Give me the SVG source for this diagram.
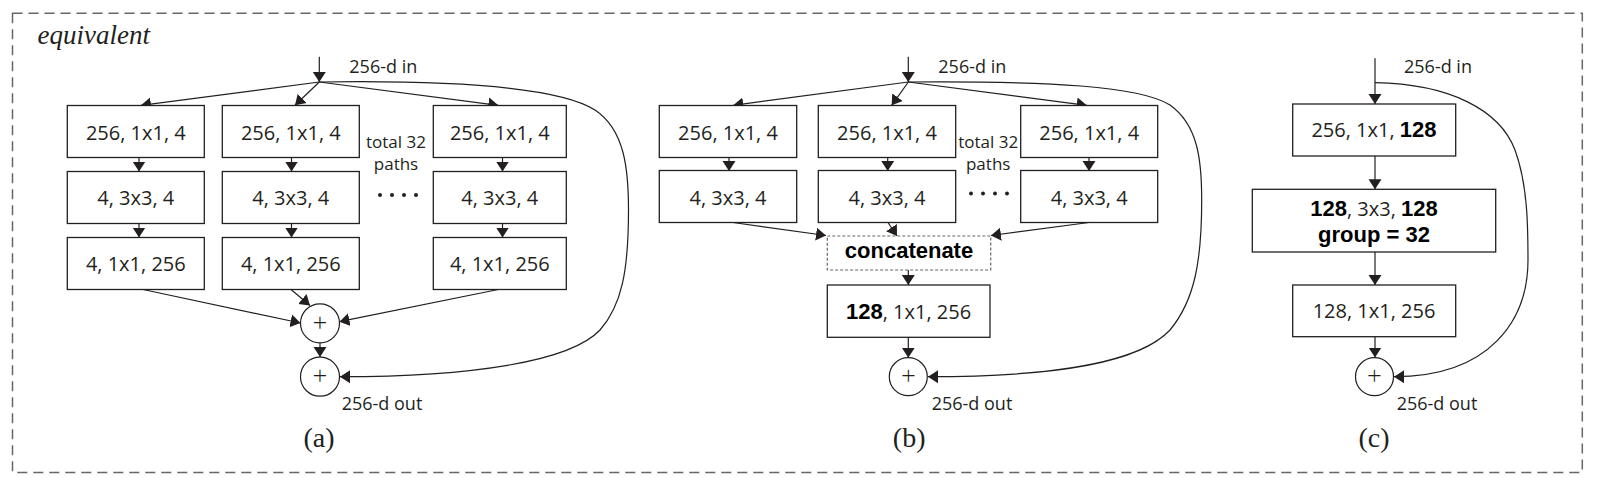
<svg xmlns="http://www.w3.org/2000/svg" width="1602" height="485" viewBox="0 0 1602 485">
<style>
.box{fill:#fff;stroke:#231f20;stroke-width:1.3}
.cbox{fill:#fff;stroke:#666;stroke-width:1.2;stroke-dasharray:3 2}
.circ{fill:#fff;stroke:#231f20;stroke-width:1.2}
.ln{fill:none;stroke:#231f20;stroke-width:1.2}
.arr{marker-end:url(#ah)}
.t{font-family:"Open Sans","Liberation Sans",sans-serif;font-size:20px;fill:#231f20}
.tc{text-anchor:middle}
.s18{font-size:18px}
.s17{font-size:17px}
.b{font-family:"Liberation Sans",Arial,sans-serif;font-weight:bold;font-size:22px;fill:#000}
.cap{font-family:"Liberation Serif","Times New Roman",serif;font-size:28px;fill:#231f20;text-anchor:middle}
.plus{font-family:"Open Sans",sans-serif;font-size:26px;font-weight:300;fill:#231f20;text-anchor:middle}
</style>
<defs>
<marker id="ah" markerUnits="userSpaceOnUse" markerWidth="10" markerHeight="14" viewBox="0 -7 10 14" refX="10" refY="0" orient="auto">
<path d="M0,-6.5 L10,0 L0,6.5 Z" fill="#231f20"/>
</marker>
</defs>
<rect x="12.5" y="13.3" width="1569.8" height="459.2" fill="none" stroke="#666" stroke-width="1.5" stroke-dasharray="10 6"/>
<text x="37.5" y="44.3" font-family="'Liberation Serif','Times New Roman',serif" font-style="italic" font-size="27" fill="#231f20">equivalent</text>

<g id="connectors">
<!-- (a) -->
<line class="ln arr" x1="319.3" y1="56.7" x2="319.3" y2="82"/>
<line class="ln arr" x1="319.3" y1="82" x2="141" y2="105.3"/>
<line class="ln arr" x1="319.3" y1="82" x2="295" y2="105.3"/>
<line class="ln arr" x1="319.3" y1="82" x2="498.3" y2="105.3"/>
<line class="ln arr" x1="139" y1="157.5" x2="139" y2="171.5"/>
<line class="ln arr" x1="139" y1="223.5" x2="139" y2="237.5"/>
<line class="ln arr" x1="291.5" y1="157.5" x2="291.5" y2="171.5"/>
<line class="ln arr" x1="291.5" y1="223.5" x2="291.5" y2="237.5"/>
<line class="ln arr" x1="502.5" y1="157.5" x2="502.5" y2="171.5"/>
<line class="ln arr" x1="502.5" y1="223.5" x2="502.5" y2="237.5"/>
<line class="ln arr" x1="143" y1="289.5" x2="300.5" y2="323"/>
<line class="ln arr" x1="291" y1="289.5" x2="310" y2="305.5"/>
<line class="ln arr" x1="498.3" y1="289.5" x2="339.5" y2="321.7"/>
<line class="ln arr" x1="320" y1="343" x2="320" y2="357"/>
<path class="ln arr" d="M319.3,82 C460,80 560,88 595,110 C625,130 628.5,170 628.5,210 C628.5,270 622,305 600,330 C570,362 470,376.7 340,376.7"/>
<!-- (b) -->
<line class="ln arr" x1="908.3" y1="56.7" x2="908.3" y2="82"/>
<line class="ln arr" x1="908.3" y1="82" x2="733.3" y2="105.3"/>
<line class="ln arr" x1="908.3" y1="82" x2="891.7" y2="105.3"/>
<line class="ln arr" x1="908.3" y1="82" x2="1086.7" y2="105.3"/>
<line class="ln arr" x1="729" y1="157.5" x2="729" y2="171"/>
<line class="ln arr" x1="887.7" y1="157.5" x2="887.7" y2="171"/>
<line class="ln arr" x1="1089" y1="157.5" x2="1089" y2="171"/>
<line class="ln arr" x1="733" y1="222.5" x2="826" y2="235.5"/>
<line class="ln arr" x1="888" y1="222.5" x2="897" y2="236"/>
<line class="ln arr" x1="1089" y1="222.5" x2="991" y2="235.5"/>
<line class="ln arr" x1="908.3" y1="270" x2="908.3" y2="285"/>
<line class="ln arr" x1="908.3" y1="337.3" x2="908.3" y2="357.7"/>
<path class="ln arr" d="M908.3,82 C1050,81 1140,86 1170,105 C1198,125 1201.7,160 1201.7,200 C1201.7,260 1195,300 1170,330 C1140,362 1060,376.7 928,376.7"/>
<!-- (c) -->
<line class="ln arr" x1="1375" y1="58.3" x2="1375" y2="104"/>
<line class="ln arr" x1="1375" y1="156" x2="1375" y2="189.3"/>
<line class="ln arr" x1="1375" y1="252" x2="1375" y2="285"/>
<line class="ln arr" x1="1375" y1="336.7" x2="1375" y2="357.5"/>
<path class="ln arr" d="M1375,82.7 C1450,84 1500,110 1515,150 C1528,185 1528,230 1528,260 C1528,320 1490,376.7 1394,376.7"/>
</g>

<!-- (a) nodes -->
<g id="a-c1r1"><rect class="box" x="67.3" y="105.5" width="137" height="52"/><text class="t tc" x="135.8" y="139.5">256, 1x1, 4</text></g>
<g id="a-c1r2"><rect class="box" x="67.3" y="171.5" width="137" height="52"/><text class="t tc" x="135.8" y="205.3">4, 3x3, 4</text></g>
<g id="a-c1r3"><rect class="box" x="67.3" y="237.5" width="137" height="52"/><text class="t tc" x="135.8" y="270.5">4, 1x1, 256</text></g>
<g id="a-c2r1"><rect class="box" x="222.3" y="105.5" width="137" height="52"/><text class="t tc" x="290.8" y="139.5">256, 1x1, 4</text></g>
<g id="a-c2r2"><rect class="box" x="222.3" y="171.5" width="137" height="52"/><text class="t tc" x="290.8" y="205.3">4, 3x3, 4</text></g>
<g id="a-c2r3"><rect class="box" x="222.3" y="237.5" width="137" height="52"/><text class="t tc" x="290.8" y="270.5">4, 1x1, 256</text></g>
<g id="a-c3r1"><rect class="box" x="433.3" y="105.5" width="133" height="52"/><text class="t tc" x="499.8" y="139.5">256, 1x1, 4</text></g>
<g id="a-c3r2"><rect class="box" x="433.3" y="171.5" width="133" height="52"/><text class="t tc" x="499.8" y="205.3">4, 3x3, 4</text></g>
<g id="a-c3r3"><rect class="box" x="433.3" y="237.5" width="133" height="52"/><text class="t tc" x="499.8" y="270.5">4, 1x1, 256</text></g>
<g id="a-sum1"><circle class="circ" cx="320" cy="323.3" r="19.5"/><text class="plus" x="320" y="332">+</text></g>
<g id="a-sum2"><circle class="circ" cx="320" cy="376.7" r="19.5"/><text class="plus" x="320" y="385.4">+</text></g>
<g id="a-labels">
<text class="t s18" x="349.3" y="73.3">256-d in</text>
<text class="t s17 tc" x="396" y="148.3">total 32</text>
<text class="t s17 tc" x="396" y="169.5">paths</text>
<circle cx="380" cy="195" r="2" fill="#231f20"/><circle cx="392" cy="195" r="2" fill="#231f20"/><circle cx="404" cy="195" r="2" fill="#231f20"/><circle cx="416" cy="195" r="2" fill="#231f20"/>
<text class="t s18" x="341.7" y="410">256-d out</text>
<text class="cap" x="319" y="447">(a)</text>
</g>

<!-- (b) nodes -->
<g id="b-c1r1"><rect class="box" x="659.3" y="105.5" width="137.4" height="52"/><text class="t tc" x="728" y="139.5">256, 1x1, 4</text></g>
<g id="b-c1r2"><rect class="box" x="659.3" y="170.5" width="137.4" height="52"/><text class="t tc" x="728" y="204.5">4, 3x3, 4</text></g>
<g id="b-c2r1"><rect class="box" x="818.3" y="105.5" width="137.4" height="52"/><text class="t tc" x="887" y="139.5">256, 1x1, 4</text></g>
<g id="b-c2r2"><rect class="box" x="818.3" y="170.5" width="137.4" height="52"/><text class="t tc" x="887" y="204.5">4, 3x3, 4</text></g>
<g id="b-c3r1"><rect class="box" x="1020.7" y="105.5" width="137" height="52"/><text class="t tc" x="1089.2" y="139.5">256, 1x1, 4</text></g>
<g id="b-c3r2"><rect class="box" x="1020.7" y="170.5" width="137" height="52"/><text class="t tc" x="1089.2" y="204.5">4, 3x3, 4</text></g>
<g id="b-concat"><rect class="cbox" x="827.3" y="236" width="163.4" height="34"/><text class="b" x="909" y="258.3" text-anchor="middle">concatenate</text></g>
<g id="b-conv"><rect class="box" x="827.3" y="285" width="162.7" height="52.3"/><text class="t tc" x="908.6" y="318.5"><tspan class="b">128</tspan>, 1x1, 256</text></g>
<g id="b-sum"><circle class="circ" cx="908.3" cy="376.7" r="19"/><text class="plus" x="908.3" y="385.4">+</text></g>
<g id="b-labels">
<text class="t s18" x="938.3" y="72.7">256-d in</text>
<text class="t s17 tc" x="988.2" y="148.3">total 32</text>
<text class="t s17 tc" x="988.2" y="169.5">paths</text>
<circle cx="971" cy="193.5" r="2" fill="#231f20"/><circle cx="983" cy="193.5" r="2" fill="#231f20"/><circle cx="995" cy="193.5" r="2" fill="#231f20"/><circle cx="1007" cy="193.5" r="2" fill="#231f20"/>
<text class="t s18" x="931.7" y="410">256-d out</text>
<text class="cap" x="909.2" y="447">(b)</text>
</g>

<!-- (c) nodes -->
<g id="c-conv1"><rect class="box" x="1292.7" y="104" width="163" height="52"/><text class="t tc" x="1374" y="136.7">256, 1x1, <tspan class="b">128</tspan></text></g>
<g id="c-conv2"><rect class="box" x="1252.3" y="189.3" width="243.4" height="62.7"/><text class="t tc" x="1374" y="216"><tspan class="b">128</tspan>, 3x3, <tspan class="b">128</tspan></text><text class="b" x="1374" y="242" text-anchor="middle">group = 32</text></g>
<g id="c-conv3"><rect class="box" x="1292.7" y="285" width="163" height="51.7"/><text class="t tc" x="1374" y="318.3">128, 1x1, 256</text></g>
<g id="c-sum"><circle class="circ" cx="1374.5" cy="376.7" r="19"/><text class="plus" x="1374.5" y="385.4">+</text></g>
<g id="c-labels">
<text class="t s18" x="1404" y="73.3">256-d in</text>
<text class="t s18" x="1396.7" y="410">256-d out</text>
<text class="cap" x="1374" y="447">(c)</text>
</g>
</svg>
